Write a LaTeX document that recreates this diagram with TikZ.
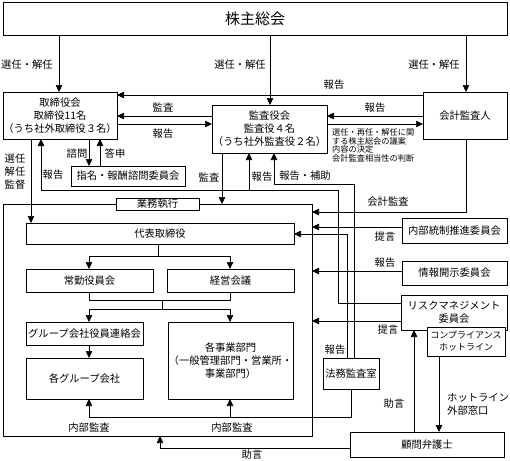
\documentclass[tikz,border=0pt]{standalone}
\usepackage{fontspec}
\setmainfont{Noto Sans CJK JP}
\usetikzlibrary{arrows.meta}
\tikzset{
  box/.style={draw, line width=0.6pt, inner sep=0pt, outer sep=0pt, align=center, fill=white, font=\fontsize{10.3}{13}\selectfont},
  arr/.style={-{Triangle[length=7pt,width=6.5pt]}, line width=0.6pt},
  ln/.style={line width=0.6pt},
  lab/.style={inner sep=0pt, font=\fontsize{10.3}{13}\selectfont, align=center},
  small/.style={inner sep=0pt, font=\fontsize{8.2}{8.7}\selectfont, align=left}
}
\begin{document}
\begin{tikzpicture}[x=1pt,y=-1pt]
\useasboundingbox (0,0) rectangle (510,460);
% frame
\node[draw, line width=0.6pt, inner sep=0pt, outer sep=0pt, minimum width=309pt, minimum height=232pt] (fr) at (157.5,320) {};
% boxes
\node[box, minimum width=504pt, minimum height=33pt, font=\fontsize{15}{18}\selectfont] (sh) at (255,18.5) {株主総会};
\node[box, minimum width=114pt, minimum height=47pt] (tb) at (60,115.5) {取締役会\\取締役11名\\（うち社外取締役３名）};
\node[box, minimum width=115pt, minimum height=48pt] (ka) at (269.5,129) {監査役会\\監査役４名\\（うち社外監査役２名）};
\node[box, minimum width=84pt, minimum height=47pt] (kk) at (465,115.5) {会計監査人};
\node[box, minimum width=114pt, minimum height=20pt] (sm) at (128,176) {指名・報酬諮問委員会};
\node[box, minimum width=83pt, minimum height=12pt] (gm) at (157.5,204) {業務執行};
\node[box, minimum width=268pt, minimum height=21pt] (dh) at (160,233.5) {代表取締役};
\node[box, minimum width=127pt, minimum height=23pt] (jy) at (89.5,280.5) {常勤役員会};
\node[box, minimum width=127pt, minimum height=23pt] (kg) at (230.5,280.5) {経営会議};
\node[box, minimum width=117pt, minimum height=23pt] (gr) at (84.5,333.5) {グループ会社役員連絡会};
\node[box, minimum width=117pt, minimum height=41pt] (kgr) at (84.5,378.5) {各グループ会社};
\node[box, minimum width=125pt, minimum height=77pt] (jb) at (230.5,360.5) {各事業部門\\（一般管理部門・営業所・\\事業部門）};
\node[box, minimum width=105pt, minimum height=25pt] (nt) at (454.5,230.5) {内部統制推進委員会};
\node[box, minimum width=105pt, minimum height=24pt] (jk) at (454.5,273) {情報開示委員会};
\node[box, minimum width=106pt, minimum height=35pt] (rm) at (454,312.5) {リスクマネジメント\\委員会};
\node[box, minimum width=78pt, minimum height=29pt, font=\fontsize{9}{12}\selectfont] (cp) at (466,341.5) {コンプライアンス\\ホットライン};
\node[box, minimum width=56pt, minimum height=31pt] (hm) at (351,373.5) {法務監査室};
\node[box, minimum width=154pt, minimum height=25pt] (km) at (427,444.5) {顧問弁護士};
% shareholders
\draw[arr] (59,0 |- sh.south) -- (59,0 |- tb.north);
\draw[arr] (270,0 |- sh.south) -- (270,0 |- ka.north);
\draw[arr] (466,0 |- sh.south) -- (466,0 |- kk.north);
\node[lab] (l1) at (27,65) {選任・解任};
\node[lab] (l2) at (240,65) {選任・解任};
\node[lab] (l3) at (434,65) {選任・解任};
% kk -> tb
\draw[arr] (kk.west |- 0,95) -- (tb.east |- 0,95);
\node[lab] (l4) at (334,85) {報告};
% tb <-> ka
\draw[arr] (ka.west |- 0,116) -- (tb.east |- 0,116);
\draw[arr] (tb.east |- 0,124) -- (ka.west |- 0,124);
\node[lab] (l5) at (163,107) {監査};
\node[lab] (l6) at (163,134) {報告};
% ka <-> kk
\draw[arr] (kk.west |- 0,116) -- (ka.east |- 0,116);
\draw[arr] (ka.east |- 0,124) -- (kk.west |- 0,124);
\node[lab] (l7) at (375,108) {報告};
\node[small, anchor=north west] (l8) at (332,128.5) {選任・再任・解任に関\\する株主総会の議案\\内容の決定\\会計監査相当性の判断};
% tb <-> sm
\draw[arr] (89,0 |- tb.south) -- (89,0 |- sm.north);
\draw[arr] (100,0 |- sm.north) -- (100,0 |- tb.south);
\node[lab] (l9) at (77,154) {諮問};
\node[lab] (l10) at (115,154) {答申};
% tb -> dh
\draw[arr] (31,0 |- tb.south) -- (31,0 |- dh.north);
\node[lab] (l11) at (15,172) {選任\\解任\\監督};
% rm report line
\coordinate (r1) at (338,303);
\coordinate (r2) at (338,190);
\coordinate (r3) at (249,190);
\draw[ln] (rm.west |- r1) -- (r1) -- (r2) -- (r3);
\draw[arr] (r3) -- (41,190) -- (41,0 |- tb.south);
\draw[arr] (r3) -- (r3 |- ka.south);
\node[lab] (l12) at (53,175) {報告};
\node[lab] (l13) at (262,177) {報告};
% ka -> frame
\draw[arr] (222,0 |- ka.south) -- (222,0 |- fr.north);
\node[lab] (l14) at (209,177) {監査};
% hm -> ka
\draw[arr] (354,0 |- hm.north) -- (354,184) -- (274,184) -- (274,0 |- ka.south);
\node[lab] (l15) at (305,176) {報告・補助};
% hm -> dh
\draw[arr] (347,0 |- hm.north) -- (347,234) -- (dh.east |- 0,234);
\node[lab] (l16) at (335,350) {報告};
% kk -> frame
\draw[arr] (466,0 |- kk.south) -- (466,212) -- (fr.east |- 0,212);
\node[lab] (l17) at (388,202) {会計監査};
% committees -> frame
\draw[arr] (nt.west |- 0,227) -- (fr.east |- 0,227);
\node[lab] (l18) at (385,237) {提言};
\draw[arr] (jk.west |- 0,271) -- (fr.east |- 0,271);
\node[lab] (l19) at (385,263) {報告};
\draw[arr] (rm.west |- 0,321) -- (fr.east |- 0,321);
\node[lab] (l20) at (388,330) {提言};
% dh -> jy, kg
\draw[ln] (158,0 |- dh.south) -- (158,256);
\draw[arr] (158,256) -- (89,256) -- (89,0 |- jy.north);
\draw[arr] (158,256) -- (230,256) -- (230,0 |- kg.north);
% jy, kg -> gr, jb
\draw[ln] (89,0 |- jy.south) -- (89,300) -- (230,300) -- (230,0 |- kg.south);
\draw[ln] (162,300) -- (162,309);
\draw[arr] (162,309) -- (89,309) -- (89,0 |- gr.north);
\draw[arr] (162,309) -- (230,309) -- (230,0 |- jb.north);
% gr -> kgr
\draw[arr] (89,0 |- gr.south) -- (89,0 |- kgr.north);
% internal audit
\coordinate (ia) at (230,417);
\draw[ln] (351,0 |- hm.south) -- (351,417) -- (ia);
\draw[arr] (ia) -- (89,417) -- (89,0 |- kgr.south);
\draw[arr] (ia) -- (230,0 |- jb.south);
\node[lab] (l21) at (89,428) {内部監査};
\node[lab] (l22) at (232,428) {内部監査};
% km -> frame
\draw[arr] (km.west |- 0,448) -- (160,448) -- (160,0 |- fr.south);
\node[lab] (l23) at (252,455) {助言};
% km -> rm
\draw[arr] (414,0 |- km.north) -- (414,0 |- rm.south);
\node[lab] (l24) at (394,404) {助言};
% cp -> km
\draw[arr] (439,0 |- cp.south) -- (439,0 |- km.north);
\node[lab, align=left, anchor=west] (l25) at (447,404) {ホットライン\\外部窓口};
\end{tikzpicture}
\end{document}
